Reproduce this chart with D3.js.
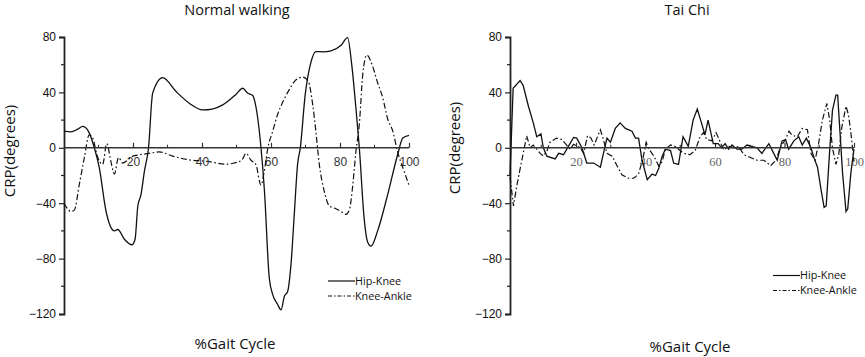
<!DOCTYPE html>
<html><head><meta charset="utf-8">
<script src="https://cdn.jsdelivr.net/npm/d3@7"></script>
<style>body{margin:0;background:#fff}svg{display:block}</style>
</head><body>
<svg id="chart" width="865" height="357"></svg>
<script>
// ---------- DATA ----------
const panelTitles = ["Normal walking", "Tai Chi"];
const seriesNames = ["Hip-Knee", "Knee-Ankle"];
const yTicks = [80, 40, 0, -40, -80, -120];
const xTicks = [20, 40, 60, 80, 100];

// Normal walking: [%gait cycle, CRP]
const walkHipKnee = [[0,12],[2,11.5],[4,13.5],[5.4,15.4],[6.5,14],[7.3,10.8],[8.8,0],[10.2,-14],[12.2,-46],[14.6,-60],[15.6,-59],[17.5,-66],[19.7,-70],[20.6,-66],[21.4,-42],[22.3,-34],[23.3,-17],[24.5,0],[25.7,39.5],[28.6,50.7],[32.5,40.6],[36.3,32.2],[40.2,27.4],[43,28],[46,31],[49.9,38.7],[51.8,43],[53.2,39.5],[54.7,37.7],[55.6,30],[57.1,0],[58.1,-31],[59.5,-94],[60.5,-106],[61.9,-113],[62.9,-117],[63.9,-107],[64.8,-104],[65.8,-84],[66.8,-46],[67.7,-12],[68.5,0],[69.9,38],[71.4,60],[73,69.5],[75,69.3],[77.4,70],[80.3,74],[82.2,79.6],[83.4,60],[84.6,29],[85.6,0],[87,-51],[88,-68],[89,-71],[90.9,-60],[93.8,-34],[96.7,-5],[98.2,7],[100,9]];
const walkKneeAnkle = [[0,-40],[1,-44],[2,-46],[3,-45],[4.4,-27],[5.9,-7],[7.3,9.4],[8.3,7],[9.8,-7],[11.2,-12],[12.4,3],[13.6,-10],[14.6,-19],[15.8,-7],[17,-11],[19.9,-6],[22,-5],[24.7,-4],[27.6,-3],[31.5,-6],[36.3,-8.7],[41.2,-9.7],[47,-11.8],[49.3,-11],[51.5,-9],[52.8,-4],[54.2,-9],[55.6,-12],[57.1,-27],[57.9,-19],[59.1,0],[60.5,12],[61.9,24],[63.4,33],[65.3,42],[67.2,49],[69.2,51],[70.8,48],[72.1,31],[73,12],[74,-12],[75.4,-31],[76.9,-42],[78.8,-44],[80.3,-46],[81.7,-48],[82.7,-45],[83.7,-27],[84.6,-3],[85.6,17],[86.6,53],[87.8,67],[89,62],[90.9,47],[92.4,36],[93.8,21],[95.3,12],[96.7,-3],[98.6,-17],[100,-27]];

// Tai Chi: [%gait cycle, CRP]
const taiHipKnee = [[1,-20],[1.9,43],[3.9,48.6],[4.8,45],[6.3,30],[7.7,18],[8.7,8],[9.9,10],[10.6,0],[11.6,-6],[14,-8],[15,-4],[16.4,-5],[17.8,1],[19.3,7.5],[20.2,7],[21.7,0],[23.1,-11],[25.1,-11],[27,-14],[27.9,-4],[28.9,7],[29.9,4],[31.3,14],[32.7,18],[34.2,14],[36.1,12],[37.1,7],[38,7],[39,-9],[40.5,-23],[41.9,-19],[42.9,-20],[43.8,-15],[44.8,-6],[45.7,-1],[47.2,-2],[48.1,-11],[49.5,-12],[50.8,8],[52.3,1],[53.7,20],[54.9,28],[56.1,18],[57.1,9.4],[58,20],[59.5,3],[60.9,3],[61.9,0],[62.9,3],[63.9,-1],[64.9,2],[66.3,-1],[67.7,-1],[69.2,2],[70.6,1],[72.1,0],[73.5,-4],[75.5,3],[76.9,-4],[77.9,-9],[79.3,5],[80.3,6],[81.2,-1],[82.7,5],[84.1,8],[85.1,2],[86.3,7],[87.6,0],[88.6,-8],[89.5,-14],[90.5,-30],[91.4,-43],[92,-42],[92.9,-6],[93.8,27],[94.8,38],[95.3,38],[95.8,18],[96.7,-18],[97.7,-46],[98.2,-44],[99.1,-18],[100,-1]];
const taiKneeAnkle = [[1,-21],[2,-42],[2.9,-28],[4.4,-9],[5.8,8.7],[6.8,0],[7.7,2],[8.7,-1],[9.7,-4],[10.6,-6],[11.6,-2.5],[12.5,4],[14.4,7],[15.9,6],[17.3,2],[18.3,-1],[19.3,2.5],[21.2,0],[22.2,-4],[23.3,8.7],[24.3,7],[25.2,2],[27,13],[27.9,6],[28.9,-4],[30.4,-6],[31.8,-13],[33.2,-19.5],[35.1,-22],[36.6,-22],[38,-19],[39.3,-7],[40.2,4],[41,-1],[42.4,-6],[43.8,-13],[44.8,-10],[45.7,-1],[47.2,2],[48.6,1],[49.5,-1],[50.9,-4],[52.8,-5],[54.3,-2],[55.7,8],[56.7,11],[57.6,6],[59.1,5],[60.3,11],[61.2,6],[62.5,-1.5],[64,1],[65.4,0],[66.8,1],[68.3,-5],[70.2,-7],[72.1,-9],[74.1,-9],[76,-13],[77.5,-9],[78.9,1],[80.3,6],[81.3,12],[82.2,9],[83.7,8],[85.1,14],[86.6,13],[87.6,-4],[88.8,-9],[89.8,3],[90.9,20],[92.2,32],[93,20],[93.8,0],[94.8,-12],[95.6,-5],[96.5,15],[97.7,30],[98.4,24],[99.1,11],[100,-10]];

// ---------- DRAW ----------
const svg = d3.select("#chart");
const sansAxis = "'Liberation Sans', Arial, sans-serif";
const sansText = "'Open Sans', 'Noto Sans', sans-serif";

const panels = [
  { title: panelTitles[0], xDomain: [0, 100], xRange: [64, 409], hk: walkHipKnee, ka: walkKneeAnkle,
    curve: d3.curveMonotoneX, titleX: 237, xTitleX: 235, xTitleY: 349, yTitleX: 15, yTitleY: 151,
    tickFont: sansAxis, tickColor: "#333", legendX: 328, legendY: [281, 296] },
  { title: panelTitles[1], xDomain: [1, 100], xRange: [510, 854], hk: taiHipKnee, ka: taiKneeAnkle,
    curve: d3.curveLinear, titleX: 687, xTitleX: 690, xTitleY: 352, yTitleX: 460, yTitleY: 148,
    tickFont: "'Liberation Serif', 'Times New Roman', serif", tickColor: "#666", legendX: 773, legendY: [275.5, 290.5] }
];

const dash = "6,2.5,1.6,2.5";

panels.forEach(p => {
  const x = d3.scaleLinear().domain(p.xDomain).range(p.xRange);
  const y = d3.scaleLinear().domain([-120, 80]).range([314, 37]);
  const g = svg.append("g");

  // title
  g.append("text").attr("x", p.titleX).attr("y", 15).attr("text-anchor", "middle")
    .attr("font-family", sansText).attr("font-size", 14.5).attr("fill", "#111").text(p.title);

  // y axis
  const yAxis = d3.axisLeft(y).tickValues(yTicks).tickSize(5).tickPadding(3).tickFormat(d3.format("d"));
  const ya = g.append("g").attr("transform", `translate(${x.range()[0]},0)`).call(yAxis);
  ya.select(".domain").attr("stroke", "#222").attr("stroke-width", 1.8);
  ya.selectAll(".tick line").attr("stroke", "#222").attr("stroke-width", 1.2);
  ya.selectAll(".tick text").attr("font-family", sansAxis).attr("font-size", 12).attr("fill", "#111");
  // minor y ticks
  const yMinor = d3.range(-100, 80, 40);
  g.append("g").selectAll("line").data(yMinor).join("line")
    .attr("x1", x.range()[0] - 3).attr("x2", x.range()[0])
    .attr("y1", d => y(d)).attr("y2", d => y(d)).attr("stroke", "#222").attr("stroke-width", 1.2);

  // x axis on zero line, ticks upward, labels below
  const x0 = y(0);
  const xAxis = d3.axisTop(x).tickValues(xTicks).tickSize(5).tickFormat(d3.format("d"));
  const xa = g.append("g").attr("transform", `translate(0,${x0})`).call(xAxis);
  xa.select(".domain").remove();
  xa.selectAll(".tick line").attr("stroke", "#333").attr("stroke-width", 1.2);
  xa.selectAll(".tick text").attr("y", 18).attr("dy", null).attr("font-family", p.tickFont)
    .attr("font-size", p.tickFont === sansAxis ? 12 : 12.5).attr("fill", p.tickColor);
  const xMinor = [10, 30, 50, 70, 90];
  g.append("g").selectAll("line").data(xMinor).join("line")
    .attr("x1", d => x(d)).attr("x2", d => x(d)).attr("y1", x0 - 3).attr("y2", x0)
    .attr("stroke", "#333").attr("stroke-width", 1.1);

  // series
  const line = d3.line().x(d => x(d[0])).y(d => y(d[1])).curve(p.curve);
  g.append("path").datum(p.ka).attr("d", line).attr("fill", "none")
    .attr("stroke", "#111").attr("stroke-width", 1.2).attr("stroke-dasharray", dash);
  g.append("path").datum(p.hk).attr("d", line).attr("fill", "none")
    .attr("stroke", "#111").attr("stroke-width", 1.3);

  // zero line
  g.append("line").attr("x1", x.range()[0]).attr("x2", x.range()[1]).attr("y1", x0).attr("y2", x0)
    .attr("stroke", "#333").attr("stroke-width", 1.5);

  // axis titles
  g.append("text").attr("x", p.xTitleX).attr("y", p.xTitleY).attr("text-anchor", "middle")
    .attr("font-family", sansText).attr("font-size", 15).attr("fill", "#111").text("%Gait Cycle");
  g.append("text").attr("transform", `translate(${p.yTitleX},${p.yTitleY}) rotate(-90)`)
    .attr("text-anchor", "middle").attr("font-family", sansText).attr("font-size", 15)
    .attr("fill", "#111").text("CRP(degrees)");

  // legend
  seriesNames.forEach((name, i) => {
    const ly = p.legendY[i];
    g.append("line").attr("x1", p.legendX).attr("x2", p.legendX + 27).attr("y1", ly).attr("y2", ly)
      .attr("stroke", "#111").attr("stroke-width", 1.2)
      .attr("stroke-dasharray", i === 1 ? "4,2,1.5,2" : null);
    g.append("text").attr("x", p.legendX + 27).attr("y", ly).attr("dy", "0.35em")
      .attr("font-family", sansText).attr("font-size", 10.8).attr("fill", "#111").text(name);
  });
});
</script>
</body></html>
